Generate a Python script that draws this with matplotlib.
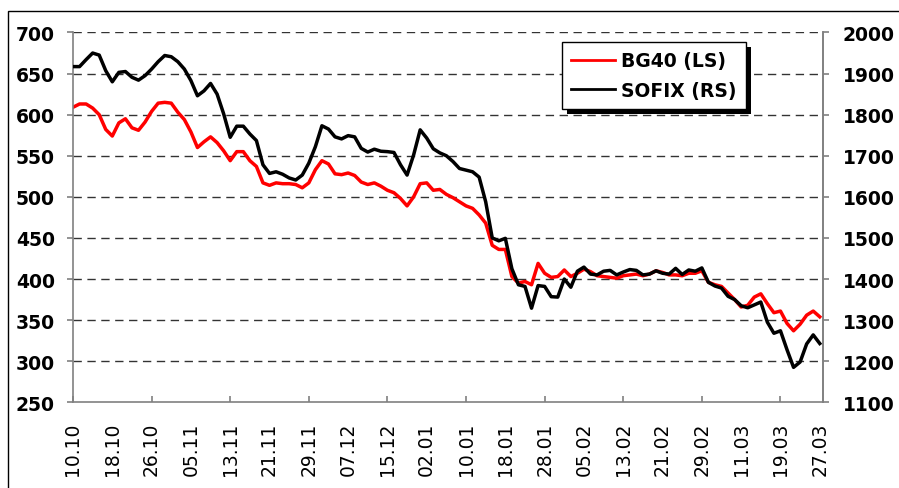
import matplotlib
matplotlib.use("Agg")
import matplotlib.pyplot as plt
from matplotlib.patches import Rectangle
from matplotlib.transforms import IdentityTransform
import numpy as np

# trading-day labels, one every 6 sessions
date_labels = ["10.10", "18.10", "26.10", "05.11", "13.11", "21.11", "29.11",
               "07.12", "15.12", "02.01", "10.01", "18.01", "28.01", "05.02",
               "13.02", "21.02", "29.02", "11.03", "19.03", "27.03"]

bg40 = [609, 613, 613, 608, 600, 582, 574, 590, 595, 584, 581, 591, 604, 614,
        615, 614, 603, 594, 579, 560, 567, 573, 566, 556, 544, 555, 555, 544,
        537, 517, 514, 517, 516, 516, 515, 511, 517, 533, 544, 540, 528, 527,
        529, 526, 518, 515, 517, 513, 508, 505, 498, 489, 500, 516, 517, 508,
        509, 503, 499, 494, 489, 486, 478, 468, 441, 436, 436, 403, 395, 397,
        393, 419, 407, 402, 403, 411, 403, 407, 412, 409, 404, 403, 402, 401,
        404, 405, 406, 404, 406, 410, 408, 405, 405, 404, 407, 407, 410, 396,
        393, 391, 383, 375, 366, 368, 378, 382, 370, 359, 361, 346, 337, 345,
        356, 361, 354]

sofix = [1917, 1917, 1934, 1950, 1945, 1907, 1880, 1903, 1905, 1891, 1884,
         1895, 1911, 1929, 1944, 1941, 1929, 1911, 1883, 1846, 1858, 1876,
         1850, 1802, 1745, 1772, 1772, 1753, 1737, 1678, 1657, 1661, 1655,
         1646, 1641, 1653, 1682, 1722, 1773, 1765, 1746, 1741, 1749, 1746,
         1718, 1709, 1716, 1711, 1710, 1708, 1678, 1653, 1702, 1763, 1743,
         1717, 1707, 1700, 1686, 1669, 1665, 1661, 1648, 1588, 1500, 1493,
         1499, 1425, 1386, 1382, 1329, 1384, 1382, 1357, 1356, 1400, 1380,
         1419, 1429, 1412, 1410, 1419, 1421, 1410, 1417, 1423, 1421, 1410,
         1412, 1420, 1414, 1412, 1426, 1411, 1422, 1419, 1427, 1392, 1383,
         1378, 1358, 1350, 1335, 1330, 1337, 1344, 1295, 1268, 1274, 1228,
         1185, 1198, 1242, 1264, 1243]

left_ticks = np.arange(250, 701, 50)
right_ticks = np.arange(1100, 2001, 100)

x = np.arange(len(bg40))
label_pos = np.arange(0, len(bg40), 6)

fig = plt.figure(figsize=(8.99, 4.89), dpi=100)
ax = fig.add_axes([0.0812, 0.1753, 0.8343, 0.7562])
ax2 = ax.twinx()

# grid
for t in left_ticks[1:]:
    ax.axhline(t, color="#333333", lw=1.0, ls=(0, (6, 4)), zorder=0.5)

l1, = ax.plot(x, bg40, color="#ff0000", lw=2.5, label="BG40 (LS)",
              solid_joinstyle="round")
l2, = ax2.plot(x, sofix, color="black", lw=2.5, label="SOFIX (RS)",
               solid_joinstyle="round")

ax.set_xlim(0, 114.5)
ax.set_ylim(250, 700)
ax2.set_ylim(1100, 2000)

ax.set_yticks(left_ticks, [str(t) for t in left_ticks],
              fontweight="bold", fontsize=13.5)
ax2.set_yticks(right_ticks, [str(t) for t in right_ticks],
               fontweight="bold", fontsize=13.5)

major = label_pos[::2]
minor = label_pos[1::2]
ax.set_xticks(major, [date_labels[i] for i in range(0, 20, 2)],
              rotation=90, fontsize=13.5)
ax.set_xticks(minor, [date_labels[i] for i in range(1, 20, 2)],
              minor=True, rotation=90, fontsize=13.5)

spine_c = "#808080"
for a in (ax, ax2):
    a.spines["top"].set_visible(False)
    for s in a.spines.values():
        s.set_color(spine_c)
        s.set_linewidth(1.2)
ax2.spines["left"].set_visible(False)
ax2.spines["bottom"].set_visible(False)

ax.tick_params(axis="y", direction="out", length=4, width=1.2,
               color=spine_c, pad=9)
ax2.tick_params(axis="y", direction="out", length=4, width=1.2,
                color=spine_c, pad=10)
ax.tick_params(axis="x", which="major", direction="in", length=4,
               width=1.2, color=spine_c, pad=14)
ax.tick_params(axis="x", which="minor", length=0, pad=14)

leg = ax2.legend([l1, l2], ["BG40 (LS)", "SOFIX (RS)"], loc="upper left",
                 bbox_to_anchor=(0.652, 0.974), borderaxespad=0,
                 frameon=True, fancybox=False, framealpha=1,
                 edgecolor="black", prop={"weight": "bold", "size": 13.5},
                 handlelength=2.3, handletextpad=0.35, borderpad=0.5,
                 labelspacing=0.55)
leg.get_frame().set_linewidth(1.0)
for ln in leg.get_lines():
    ln.set_linewidth(2.0)

# hard black drop shadow like the original
fig.canvas.draw()
bb = leg.get_window_extent()
shadow = Rectangle((bb.x0 + 5, bb.y0 - 5), bb.width, bb.height,
                   transform=IdentityTransform(), facecolor="black",
                   edgecolor="none", zorder=4.9, clip_on=False)
ax2.add_artist(shadow)

# outer frame of the chart
fig.add_artist(Rectangle((8 / 899, -0.05), 1.2, 1 - 12 / 489 + 0.05,
                         transform=fig.transFigure, fill=False,
                         edgecolor="black", lw=1.0))

fig.savefig("out.png", dpi=100)
